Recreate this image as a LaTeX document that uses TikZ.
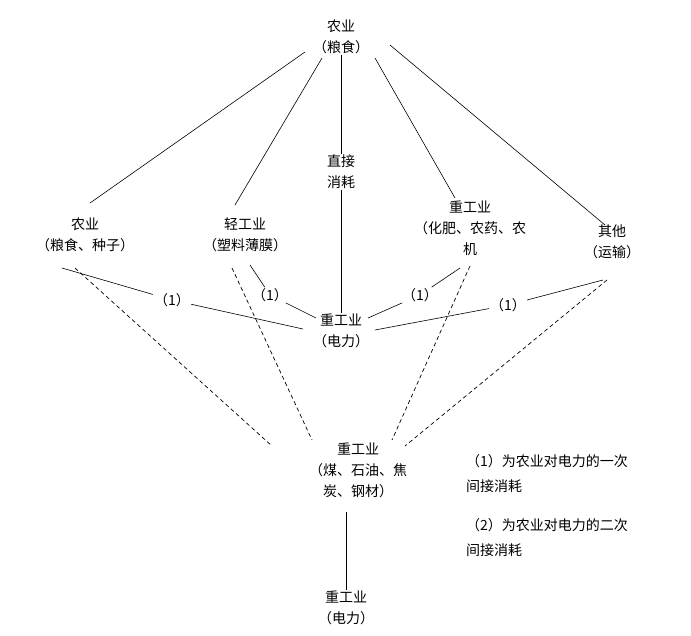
\documentclass[tikz,border=0pt]{standalone}
\usepackage{fontspec}
\setmainfont{Noto Sans CJK SC}
\begin{document}
\begin{tikzpicture}[x=1pt,y=-1pt,
  lab/.style={align=center,font=\fontsize{14}{21}\selectfont,inner sep=1pt},
  ln/.style={line width=0.6pt},
  dl/.style={line width=0.7pt,dash pattern=on 4pt off 3pt}]
\useasboundingbox (0,0) rectangle (691,635);
\node[lab] (top) at (341,37) {农业\\（粮食）};
\node[lab] (dir) at (341,172) {直接\\消耗};
\node[lab] (a1) at (85,235) {农业\\（粮食、种子）};
\node[lab] (a2) at (245,235) {轻工业\\（塑料薄膜）};
\node[lab] (a3) at (470,228) {重工业\\（化肥、农药、农\\机};
\node[lab] (a4) at (612,242) {其他\\（运输）};
\node[lab] (c) at (341,331) {重工业\\（电力）};
\node[lab] (h) at (358,470) {重工业\\（煤、石油、焦\\炭、钢材）};
\node[lab] (b) at (346,608) {重工业\\（电力）};
\node[lab] (p1) at (172,300) {（1）};
\node[lab] (p2) at (270,295) {（1）};
\node[lab] (p3) at (420,295) {（1）};
\node[lab] (p4) at (508,305) {（1）};
\node[lab,align=left,anchor=north west,font=\fontsize{14}{25}\selectfont] (leg) at (465,453) {（1）为农业对电力的一次\\间接消耗\\[14pt]（2）为农业对电力的二次\\间接消耗};
\coordinate (t1) at (305,52); \coordinate (t2) at (322,58);
\coordinate (t4) at (375,58); \coordinate (t5) at (390,45);
\draw[ln] (t1) -- (90,203);
\draw[ln] (t2) -- (235,205);
\draw[ln] (top) -- (dir);
\draw[ln] (dir) -- (c);
\draw[ln] (t4) -- (455,198);
\draw[ln] (t5) -- (605,225);
\coordinate (l1) at (62,268); \coordinate (l2) at (250,265);
\coordinate (l3) at (460,268); \coordinate (l4) at (603,280);
\draw[ln] (l1) -- (p1) -- (303,329);
\draw[ln] (l2) -- (p2) -- (316,318);
\draw[ln] (l3) -- (p3) -- (368,318);
\draw[ln] (l4) -- (p4) -- (375,330);
\draw[dl] (75,268) -- (272,446);
\draw[dl] (232,268) -- (312,440);
\draw[dl] (470,266) -- (392,440);
\draw[dl] (607,280) -- (405,446);
\coordinate (hb) at (346,512);
\draw[ln] (hb) -- (b.north -| hb);
\end{tikzpicture}
\end{document}
